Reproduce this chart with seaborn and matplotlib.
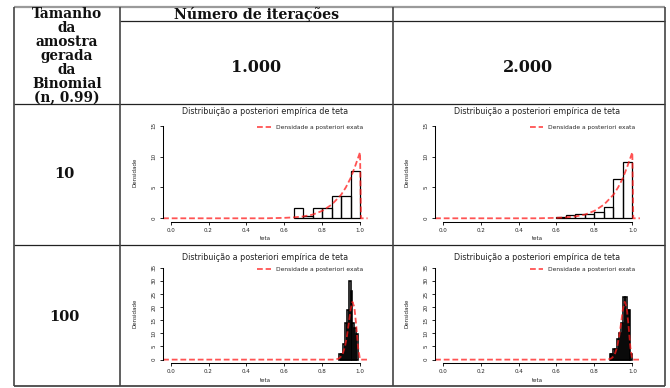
import matplotlib
matplotlib.use("Agg")
import matplotlib.pyplot as plt
import seaborn as sns

# ---------------- table contents ----------------
row_header_lines = ["Tamanho", "da", "amostra", "gerada", "da", "Binomial", "(n, 0.99)"]
column_header = "Número de iterações"
iterations = ["1.000", "2.000"]
sample_sizes = ["10", "100"]

# ---------------- axis ticks ----------------
x_ticks = [0.0, 0.2, 0.4, 0.6, 0.8, 1.0]
x_tick_labels = ["0.0", "0.2", "0.4", "0.6", "0.8", "1.0"]
y_ticks_n10 = [0, 5, 10, 15]
y_ticks_n100 = [0, 5, 10, 15, 20, 25, 30, 35]

# ---------------- empirical posterior histograms (breaks, density) ----------------
breaks_n10_it1000 = [0.65, 0.70, 0.75, 0.80, 0.85, 0.90, 0.95, 1.00]
dens_n10_it1000 = [1.6, 0.4, 1.6, 1.6, 3.6, 3.6, 7.6]

breaks_n10_it2000 = [0.60, 0.65, 0.70, 0.75, 0.80, 0.85, 0.90, 0.95, 1.00]
dens_n10_it2000 = [0.15, 0.5, 0.65, 0.75, 1.0, 1.8, 6.3, 9.2]

breaks_n100_it1000 = [0.89, 0.90, 0.91, 0.92, 0.93, 0.94, 0.95, 0.96, 0.97, 0.98, 0.99]
dens_n100_it1000 = [2.0, 2.0, 5.8, 13.8, 19.0, 30.0, 26.0, 14.0, 12.0, 9.8]

breaks_n100_it2000 = [0.88, 0.89, 0.90, 0.91, 0.92, 0.93, 0.94, 0.95, 0.96, 0.97, 0.98, 0.99, 1.00]
dens_n100_it2000 = [2.0, 2.0, 3.9, 3.9, 7.7, 10.0, 14.0, 24.0, 24.0, 18.9, 18.9, 2.0]

# ---------------- exact posterior density curves ----------------
theta_n10 = [-0.04, 0.50, 0.60, 0.65, 0.70, 0.75, 0.80, 0.85, 0.90, 0.925, 0.95, 0.975, 1.00, 1.005, 1.04]
exact_n10 = [0.0, 0.0, 0.07, 0.15, 0.3, 0.6, 1.2, 2.2, 3.8, 5.0, 6.5, 8.5, 10.7, 0.0, 0.0]

theta_n100 = [-0.04, 0.87, 0.89, 0.90, 0.91, 0.92, 0.93, 0.94, 0.95, 0.96, 0.97, 0.98, 0.99, 1.00, 1.04]
exact_n100 = [0.0, 0.0, 0.5, 1.2, 2.5, 4.8, 8.5, 13.5, 19.0, 22.0, 20.0, 13.0, 4.5, 0.0, 0.0]

plot_title = "Distribuição a posteriori empírica de teta"
legend_label = "Densidade a posteriori exata"

# ---------------- style ----------------
sns.set_theme(style="ticks", rc={
    "axes.linewidth": 0.75,
    "xtick.major.width": 0.7,
    "ytick.major.width": 0.7,
    "xtick.major.size": 2.0,
    "ytick.major.size": 2.0,
    "axes.edgecolor": "black",
})
plt.rcParams["font.family"] = ["DejaVu Sans"]

W, H = 670, 388
fig = plt.figure(figsize=(W / 100, H / 100), dpi=100)
fig.patch.set_facecolor("white")

# background layer in pixel coordinates for the table grid and its text
bg = fig.add_axes([0, 0, 1, 1])
bg.set_xlim(0, W)
bg.set_ylim(H, 0)
bg.axis("off")

x_left, x_c1, x_c2, x_right = 14, 120, 393, 665
y_top, y_head, y_r1, y_r2, y_bot = 7, 21, 104, 245, 386

bg.hlines(y_top, x_left, x_right, color="#9a9a9a", lw=1.6)
bg.hlines(y_head, x_c1, x_right, color="#222222", lw=0.9)
bg.hlines([y_r1, y_r2], x_left, x_right, color="#222222", lw=0.9)
bg.hlines(y_bot, x_left, x_right, color="#555555", lw=1.4)
bg.vlines([x_left, x_c1, x_c2, x_right], y_top, y_bot, color="#444444", lw=1.2)

serif = dict(family="DejaVu Serif", weight="bold", color="#111111",
             ha="center", va="center")
for i, line in enumerate(row_header_lines):
    bg.text(67, 13.5 + 14.1 * i, line, fontsize=9.8, **serif)
bg.text(257, 14, column_header, fontsize=10.2, **serif)
for xc, lab in zip([256, 528], iterations):
    bg.text(xc, 67, lab, fontsize=11.5, **serif)
for yc, lab in zip([174, 317], sample_sizes):
    bg.text(64, yc, lab, fontsize=10.5, **serif)


def add_panel(rect_px, breaks, heights, theta, exact, yticks, ylim,
              title_pad, bar_lw):
    left, right, top, bottom = rect_px
    ax = fig.add_axes([left / W, 1 - bottom / H, (right - left) / W, (bottom - top) / H])
    ax.set_facecolor("none")
    centers = [(a + b) / 2 for a, b in zip(breaks[:-1], breaks[1:])]
    sns.histplot(x=centers, weights=heights, bins=breaks, stat="count",
                 fill=False, color="black", linewidth=bar_lw, ax=ax)
    sns.lineplot(x=theta, y=exact, ax=ax, color="#ff1a1a", alpha=0.75,
                 linewidth=1.3, linestyle=(0, (3.2, 1.6)), label=legend_label)
    ax.set_xlim(-0.04, 1.04)
    ax.set_ylim(*ylim)
    ax.set_xticks(x_ticks)
    ax.set_xticklabels(x_tick_labels)
    ax.set_yticks(yticks)
    ax.set_yticklabels([str(v) for v in yticks])
    sns.despine(ax=ax)
    ax.spines["left"].set_bounds(yticks[0], yticks[-1])
    ax.spines["bottom"].set_bounds(x_ticks[0], x_ticks[-1])
    ax.tick_params(axis="x", labelsize=4.1, pad=2.0)
    ax.tick_params(axis="y", labelsize=4.1, pad=3.0)
    for lab in ax.get_yticklabels():
        lab.set_rotation(90)
        lab.set_va("center")
    ax.set_title(plot_title, fontsize=5.8, pad=title_pad, color="#222222")
    ax.set_xlabel("teta", fontsize=4.0)
    ax.set_ylabel("Densidade", fontsize=4.0)
    hpx = bottom - top
    wpx = right - left
    ax.xaxis.set_label_coords(0.5, -14.5 / hpx)
    ax.yaxis.set_label_coords(-25.5 / wpx, 0.5)
    leg_y = 1 - 5.7 / hpx if top < 200 else 1 - 5.0 / hpx
    ax.legend(loc="center right", bbox_to_anchor=(0.978, leg_y), frameon=False,
              fontsize=4.3, handlelength=2.3, handletextpad=0.8,
              borderpad=0, borderaxespad=0)
    return ax


add_panel((163.1, 367.6, 122, 222), breaks_n10_it1000, dens_n10_it1000,
          theta_n10, exact_n10, y_ticks_n10, (-0.6, 15.6), 5.6, 0.9)
add_panel((435.1, 639.9, 122, 222), breaks_n10_it2000, dens_n10_it2000,
          theta_n10, exact_n10, y_ticks_n10, (-0.6, 15.6), 5.6, 0.9)
add_panel((163.1, 367.6, 264, 363.3), breaks_n100_it1000, dens_n100_it1000,
          theta_n100, exact_n100, y_ticks_n100, (-1.4, 36.4), 3.1, 1.15)
add_panel((435.1, 639.9, 264, 363.3), breaks_n100_it2000, dens_n100_it2000,
          theta_n100, exact_n100, y_ticks_n100, (-1.4, 36.4), 3.1, 1.15)

fig.savefig("out.png", dpi=100, facecolor="white")
